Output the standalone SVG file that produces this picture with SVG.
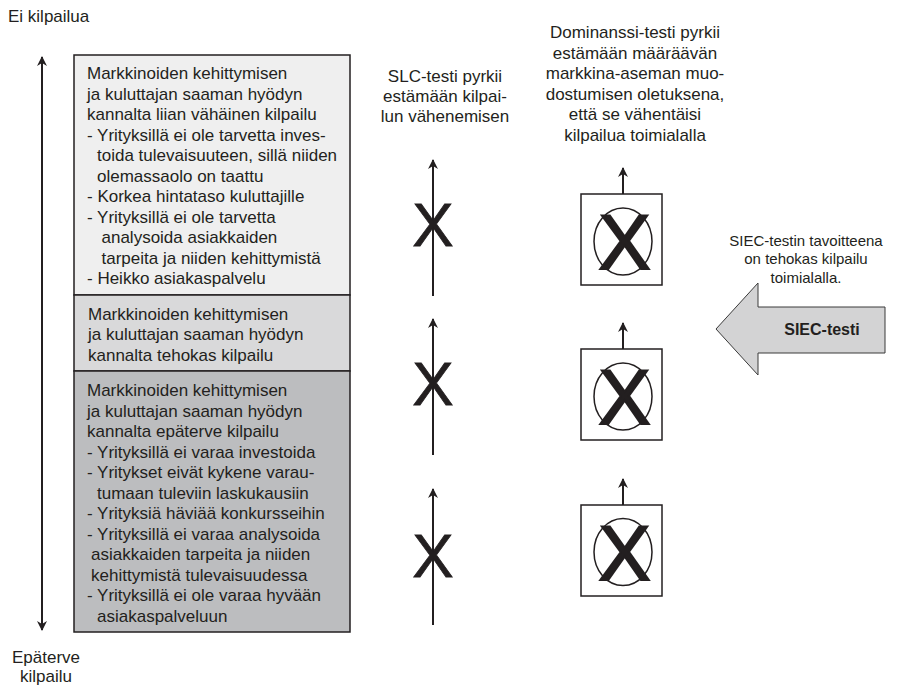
<svg xmlns="http://www.w3.org/2000/svg" width="910" height="685" viewBox="0 0 910 685">
<style>
text{font-family:"Liberation Sans",Arial,sans-serif;fill:#231f20}
.t{font-size:17px}
.c{font-size:17px;text-anchor:middle}
.s{font-size:15px;text-anchor:middle}
.b{font-size:16px;font-weight:bold;text-anchor:middle}
.x1{font-size:62px;text-anchor:middle;stroke:#231f20;stroke-width:0.8}
.x2{font-size:78px;text-anchor:middle;stroke:#231f20;stroke-width:2}
.box{stroke:#231f20;stroke-width:1.5}
.ln{stroke:#231f20;stroke-width:2;fill:none}
.cb{fill:#fff;stroke:#231f20;stroke-width:1.5}
.el{fill:none;stroke:#231f20;stroke-width:1.5}
</style>
<defs>
<marker id="ah2" viewBox="0 0 10 10" refX="9" refY="5" markerWidth="10" markerHeight="10" orient="auto-start-reverse" markerUnits="userSpaceOnUse">
<path d="M0,0 L10,5 L0,10 L3,5 Z" fill="#231f20"/>
</marker>
</defs>

<g id="labels">
<text class="t" x="8" y="22">Ei kilpailua</text>
<text class="c" x="46" y="663">Epäterve</text>
<text class="c" x="46" y="682">kilpailu</text>
</g>

<g id="connectors">
<line class="ln" x1="42" y1="57" x2="42" y2="630" marker-start="url(#ah2)" marker-end="url(#ah2)"/>
<line class="ln" x1="433" y1="296" x2="433" y2="160" marker-end="url(#ah2)"/>
<line class="ln" x1="433" y1="455" x2="433" y2="319" marker-end="url(#ah2)"/>
<line class="ln" x1="433" y1="625" x2="433" y2="489" marker-end="url(#ah2)"/>
<line class="ln" x1="623" y1="194" x2="623" y2="168" marker-end="url(#ah2)"/>
<line class="ln" x1="623" y1="349" x2="623" y2="323" marker-end="url(#ah2)"/>
<line class="ln" x1="623" y1="505" x2="623" y2="479" marker-end="url(#ah2)"/>
</g>

<g id="box-top">
<rect class="box" x="74" y="55" width="276" height="240" fill="#efefef"/>
<text class="t" x="87" y="79">Markkinoiden kehittymisen</text>
<text class="t" x="87" y="99.5">ja kuluttajan saaman hyödyn</text>
<text class="t" x="87" y="120">kannalta liian vähäinen kilpailu</text>
<text class="t" x="87" y="140.5">- Yrityksillä ei ole tarvetta inves-</text>
<text class="t" x="97" y="161">toida tulevaisuuteen, sillä niiden</text>
<text class="t" x="97" y="181.5">olemassaolo on taattu</text>
<text class="t" x="87" y="202">- Korkea hintataso kuluttajille</text>
<text class="t" x="87" y="222.5">- Yrityksillä ei ole tarvetta</text>
<text class="t" x="101.5" y="243">analysoida asiakkaiden</text>
<text class="t" x="101.5" y="263.5">tarpeita ja niiden kehittymistä</text>
<text class="t" x="87" y="284">- Heikko asiakaspalvelu</text>
</g>

<g id="box-middle">
<rect class="box" x="74" y="295" width="276" height="76" fill="#d9d9da"/>
<text class="t" x="88" y="319.5">Markkinoiden kehittymisen</text>
<text class="t" x="88" y="340">ja kuluttajan saaman hyödyn</text>
<text class="t" x="88" y="361">kannalta tehokas kilpailu</text>
</g>

<g id="box-bottom">
<rect class="box" x="74" y="371" width="276" height="261" fill="#bcbdbf"/>
<text class="t" x="87" y="396">Markkinoiden kehittymisen</text>
<text class="t" x="87" y="416.5">ja kuluttajan saaman hyödyn</text>
<text class="t" x="87" y="437">kannalta epäterve kilpailu</text>
<text class="t" x="87" y="457.5">- Yrityksillä ei varaa investoida</text>
<text class="t" x="87" y="478">- Yritykset eivät kykene varau-</text>
<text class="t" x="97" y="498.5">tumaan tuleviin laskukausiin</text>
<text class="t" x="87" y="519">- Yrityksiä häviää konkursseihin</text>
<text class="t" x="87" y="539.5">- Yrityksillä ei varaa analysoida</text>
<text class="t" x="91" y="560">asiakkaiden tarpeita ja niiden</text>
<text class="t" x="91" y="580.5">kehittymistä tulevaisuudessa</text>
<text class="t" x="87" y="601">- Yrityksillä ei ole varaa hyvään</text>
<text class="t" x="97" y="621.5">asiakaspalveluun</text>
</g>

<g id="slc-label">
<text class="c" x="445" y="82">SLC-testi pyrkii</text>
<text class="c" x="445" y="102">estämään kilpai-</text>
<text class="c" x="445" y="122">lun vähenemisen</text>
</g>

<g id="slc-x1"><text class="x1" x="433" y="246">X</text></g>
<g id="slc-x2"><text class="x1" x="433" y="405">X</text></g>
<g id="slc-x3"><text class="x1" x="433" y="577">X</text></g>

<g id="dom-label">
<text class="c" x="635" y="38">Dominanssi-testi pyrkii</text>
<text class="c" x="635" y="58.5">estämään määräävän</text>
<text class="c" x="635" y="79">markkina-aseman muo-</text>
<text class="c" x="635" y="99.5">dostumisen oletuksena,</text>
<text class="c" x="635" y="120">että se vähentäisi</text>
<text class="c" x="635" y="140.5">kilpailua toimialalla</text>
</g>

<g id="dom-box1">
<rect class="cb" x="581" y="194" width="81" height="91"/>
<ellipse class="el" cx="623" cy="241.5" rx="29" ry="33.5"/>
<text class="x2" x="624.5" y="268.5">X</text>
</g>
<g id="dom-box2">
<rect class="cb" x="581" y="349" width="81" height="91"/>
<ellipse class="el" cx="623" cy="396.5" rx="29" ry="33.5"/>
<text class="x2" x="624.5" y="423.5">X</text>
</g>
<g id="dom-box3">
<rect class="cb" x="581" y="505" width="81" height="91"/>
<ellipse class="el" cx="623" cy="552" rx="29" ry="33.5"/>
<text class="x2" x="624.5" y="579.5">X</text>
</g>

<g id="siec-label">
<text class="s" x="806" y="245.5">SIEC-testin tavoitteena</text>
<text class="s" x="806" y="264">on tehokas kilpailu</text>
<text class="s" x="806" y="282.5">toimialalla.</text>
</g>

<g id="siec-arrow">
<path d="M716,329 L758,283 L758,307 L885,307 L885,353 L758,353 L758,375 Z" fill="#d3d3d4" stroke="#3a3a3a" stroke-width="1"/>
<text class="b" x="822" y="335">SIEC-testi</text>
</g>
</svg>
